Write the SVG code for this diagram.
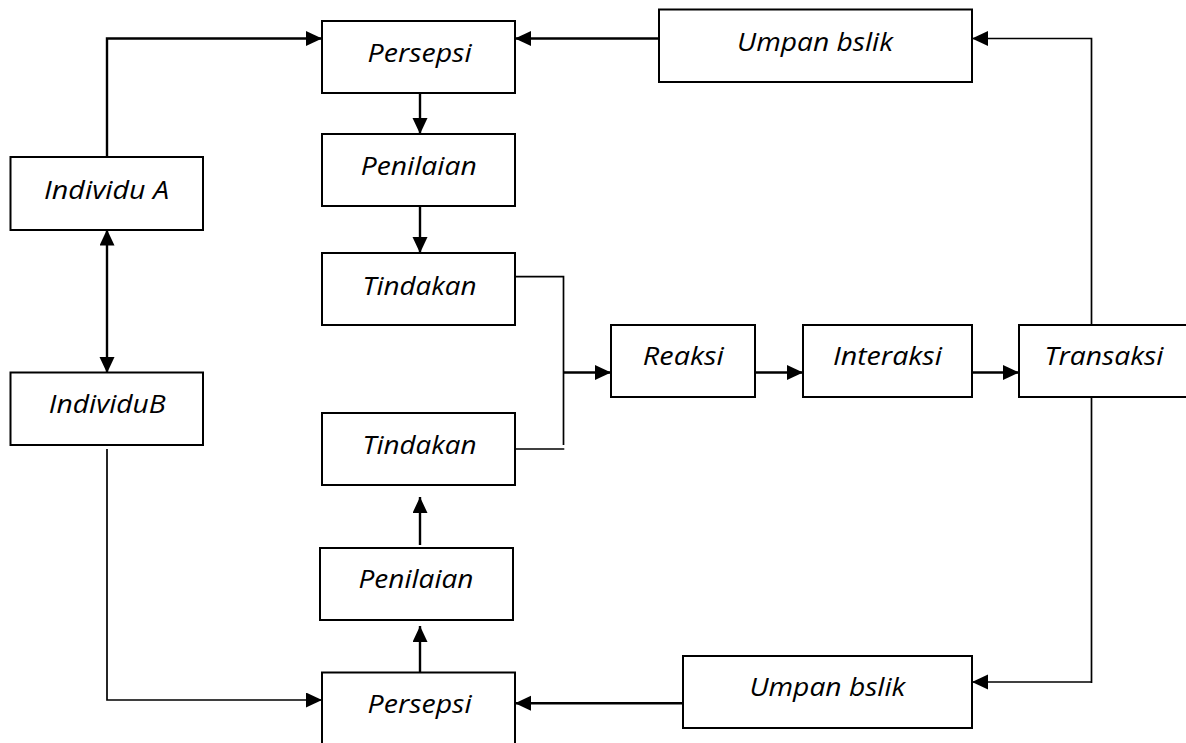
<svg xmlns="http://www.w3.org/2000/svg" width="1186" height="743" viewBox="0 0 1186 743">
  <style>
    .box { fill: #ffffff; stroke: #000000; stroke-width: 2; }
    .lbl { font-family: "Open Sans", Lato, "Liberation Sans", sans-serif; font-style: italic; font-size: 25px; fill: #000000; text-anchor: middle; }
    .arrow { fill: none; stroke: #000000; stroke-width: 2.4; }
    .thin { fill: none; stroke: #000000; stroke-width: 1.7; }
  </style>
  <defs>
    <marker id="head" markerUnits="userSpaceOnUse" markerWidth="16" markerHeight="16" refX="16" refY="7.5" orient="auto-start-reverse">
      <path d="M0,0 L16,7.5 L0,15 z" fill="#000000"/>
    </marker>
  </defs>
  <rect width="1186" height="743" fill="#ffffff"/>

  <!-- connectors -->
  <g id="connectors">
    <path class="arrow" d="M107,157 V38.5 H322" marker-end="url(#head)"/>
    <path class="arrow" d="M659,38.5 H515" marker-end="url(#head)"/>
    <path class="thin" d="M1091.5,326 V38.5 H972" marker-end="url(#head)"/>
    <path class="arrow" d="M420,86 V134" marker-end="url(#head)"/>
    <path class="arrow" d="M420,204 V253" marker-end="url(#head)"/>
    <path class="thin" d="M515,276.7 H563.5 V445"/>
    <path class="thin" d="M515,449 H564.3"/>
    <path class="arrow" d="M563.5,372.5 H611" marker-end="url(#head)"/>
    <path class="arrow" d="M755,372.5 H803" marker-end="url(#head)"/>
    <path class="arrow" d="M972,372.5 H1019" marker-end="url(#head)"/>
    <path class="arrow" d="M107,229.5 V373" marker-start="url(#head)" marker-end="url(#head)"/>
    <path class="thin" d="M107,449 V700 H322" marker-end="url(#head)"/>
    <path class="arrow" d="M420,673 V626" marker-end="url(#head)"/>
    <path class="arrow" d="M420,545 V497" marker-end="url(#head)"/>
    <path class="thin" d="M1091.5,397 V683"/>
    <path class="thin" d="M1091.5,682 H972" marker-end="url(#head)"/>
    <path class="arrow" d="M683,703.3 H515" marker-end="url(#head)"/>
  </g>

  <!-- nodes -->
  <g id="persepsi-a">
    <rect class="box" x="322" y="21" width="193" height="72"/>
    <text class="lbl" x="419.6" y="61.7" textLength="104" lengthAdjust="spacingAndGlyphs">Persepsi</text>
  </g>
  <g id="penilaian-a">
    <rect class="box" x="322" y="134" width="193" height="72"/>
    <text class="lbl" x="418.7" y="175" textLength="116" lengthAdjust="spacingAndGlyphs">Penilaian</text>
  </g>
  <g id="tindakan-a">
    <rect class="box" x="322" y="253" width="193" height="72"/>
    <text class="lbl" x="419.6" y="295" textLength="114" lengthAdjust="spacingAndGlyphs">Tindakan</text>
  </g>
  <g id="individu-a">
    <rect class="box" x="10.5" y="157" width="192.5" height="73"/>
    <text class="lbl" x="106.6" y="199.3" textLength="125" lengthAdjust="spacingAndGlyphs">Individu A</text>
  </g>
  <g id="umpan-balik-a">
    <rect class="box" x="659" y="9.5" width="313" height="72.5"/>
    <text class="lbl" x="815" y="50.7" textLength="156" lengthAdjust="spacingAndGlyphs">Umpan bslik</text>
  </g>
  <g id="reaksi">
    <rect class="box" x="611" y="325" width="144" height="72"/>
    <text class="lbl" x="683.3" y="365" textLength="81" lengthAdjust="spacingAndGlyphs">Reaksi</text>
  </g>
  <g id="interaksi">
    <rect class="box" x="803" y="325" width="169" height="72"/>
    <text class="lbl" x="887.4" y="365" textLength="109" lengthAdjust="spacingAndGlyphs">Interaksi</text>
  </g>
  <g id="transaksi">
    <rect class="box" x="1019" y="325" width="200" height="72"/>
    <text class="lbl" x="1103.9" y="365" textLength="119" lengthAdjust="spacingAndGlyphs">Transaksi</text>
  </g>
  <g id="individu-b">
    <rect class="box" x="10.5" y="372.5" width="192.5" height="72.5"/>
    <text class="lbl" x="107.3" y="413.3" textLength="117" lengthAdjust="spacingAndGlyphs">IndividuB</text>
  </g>
  <g id="tindakan-b">
    <rect class="box" x="322" y="413" width="193" height="72"/>
    <text class="lbl" x="419.6" y="454" textLength="114" lengthAdjust="spacingAndGlyphs">Tindakan</text>
  </g>
  <g id="penilaian-b">
    <rect class="box" x="320" y="548" width="193" height="72"/>
    <text class="lbl" x="416" y="588.3" textLength="115" lengthAdjust="spacingAndGlyphs">Penilaian</text>
  </g>
  <g id="persepsi-b">
    <rect class="box" x="322" y="672.5" width="193" height="100"/>
    <text class="lbl" x="419.6" y="712.7" textLength="104" lengthAdjust="spacingAndGlyphs">Persepsi</text>
  </g>
  <g id="umpan-balik-b">
    <rect class="box" x="683" y="656" width="289" height="72"/>
    <text class="lbl" x="827.4" y="696" textLength="156" lengthAdjust="spacingAndGlyphs">Umpan bslik</text>
  </g>
</svg>
